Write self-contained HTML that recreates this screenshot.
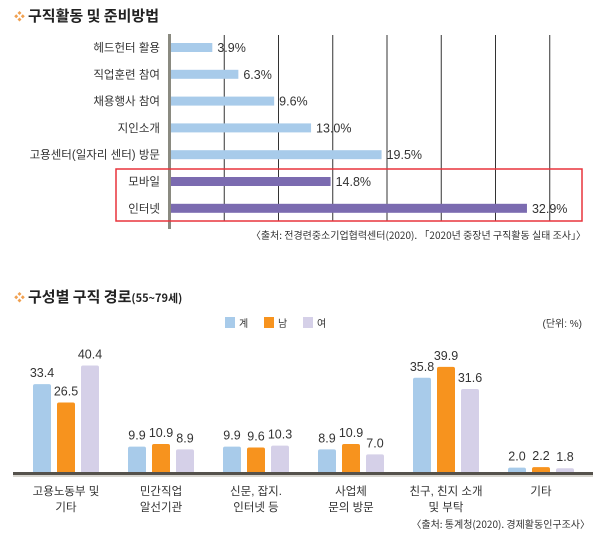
<!DOCTYPE html>
<html><head><meta charset="utf-8">
<style>
body{margin:0;background:#fff;width:610px;height:541px;overflow:hidden;font-family:"Liberation Sans","Noto Sans CJK KR","NanumGothic",sans-serif;}
svg{display:block}
</style></head>
<body>
<svg id="c" width="610" height="541" xmlns="http://www.w3.org/2000/svg">
  <g>
    <text x="14" y="20" font-size="11" fill="#f0a050">❖</text>
    <text x="28" y="21" font-size="15" font-weight="bold" fill="#222" font-family="'Noto Sans CJK KR',sans-serif">구직활동 및 준비방법</text>
  </g>
  <g id="topChart"></g>
  <rect x="116" y="169" width="466" height="52" fill="none" stroke="#e8343c" stroke-width="1.5"/>
  <text x="586" y="239" font-size="10" text-anchor="end" fill="#333" font-family="'Noto Sans CJK KR',sans-serif">〈출처: 전경련중소기업협력센터(2020). 「2020년 중장년 구직활동 실태 조사」〉</text>

  <g>
    <text x="14" y="301" font-size="11" fill="#f0a050">❖</text>
    <text x="28" y="302" font-size="15" font-weight="bold" fill="#222" font-family="'Noto Sans CJK KR',sans-serif">구성별 구직 경로<tspan font-size="11">(55~79세)</tspan></text>
  </g>
  <g id="legend"></g>
  <text x="582" y="327" font-size="10" text-anchor="end" fill="#333">(단위: %)</text>
  <g id="bottomChart"></g>
  <text x="590" y="528" font-size="10" text-anchor="end" fill="#333" font-family="'Noto Sans CJK KR',sans-serif">〈출처: 통계청(2020). 경제활동인구조사〉</text>
</svg>
<script>
const topCats=["헤드헌터 활용","직업훈련 참여","채용행사 참여","지인소개","고용센터(일자리 센터) 방문","모바일","인터넷"];
const topVals=[3.9,6.3,9.6,13.0,19.5,14.8,32.9];
const topLabels=["3.9%","6.3%","9.6%","13.0%","19.5%","14.8%","32.9%"];
const topGrid=[5,10,15,20,25,30,35];

const botCats=[["고용노동부 및","기타"],["민간직업","알선기관"],["신문, 잡지.","인터넷 등"],["사업체","문의 방문"],["친구, 친지 소개","및 부탁"],["기타"]];
const seriesNames=["계","남","여"];
const sTotal=[33.4,9.9,9.9,8.9,35.8,2.0];
const sMale=[26.5,10.9,9.6,10.9,39.9,2.2];
const sFemale=[40.4,8.9,10.3,7.0,31.6,1.8];

const NS="http://www.w3.org/2000/svg";
function mk(tag,attrs,parent,txt){const e=document.createElementNS(NS,tag);for(const k in attrs)e.setAttribute(k,attrs[k]);if(txt!=null)e.textContent=txt;parent.appendChild(e);return e;}

// top chart
const topG=document.getElementById('topChart');
const x0=170, kx=10.85;
const xs=v=>x0+v*kx;
const ys=i=>47+i*26.8;
topGrid.forEach(g=>{const l=mk('line',{x1:xs(g),x2:xs(g),y1:35,y2:221,stroke:'#333','stroke-width':1},topG);

});
const ax=mk('rect',{x:x0-2,y:34,width:3,height:195,fill:'#8a8a80'},topG);


topCats.forEach((c,i)=>{
  const y=ys(i);
  const t=mk('text',{x:160,y:y+4.5,'font-size':11.5,'text-anchor':'end',fill:'#333'},topG,c);
  
  
  const col=i>=5?'#7b6bb0':'#a8cbea';
  const b=mk('rect',{x:x0+1,y:y-4,width:xs(topVals[i])-x0-1,height:9,fill:col},topG);
  
  
  const v=mk('text',{x:xs(topVals[i])+5,y:y+5,'font-size':12.5,fill:'#333'},topG,topLabels[i]);
  
  
});

// legend
const lg=document.getElementById('legend');
const lcols=['#a8cbea','#f7931e','#d5d0e8'];
seriesNames.forEach((n,i)=>{
  const x=225+i*39;
  const r=mk('rect',{x:x,y:317,width:10,height:11,fill:lcols[i]},lg);
  
  
  const t=mk('text',{x:x+14,y:327,'font-size':10,fill:'#333'},lg,n);
  
  
});

// bottom chart
const botG=document.getElementById('bottomChart');
const base=473, ky=2.66;
const series=[sTotal,sMale,sFemale];
const gx=i=>33+i*95;
botCats.forEach((c,i)=>{
  series.forEach((s,j)=>{
    const h=s[i]*ky, x=gx(i)+j*24;
    const b=mk('rect',{x:x,y:base-h,width:18,height:h+2,rx:2,fill:lcols[j]},botG);
    
    
    const v=mk('text',{x:x+9,y:base-h-7,'font-size':12.5,'text-anchor':'middle',fill:'#333'},botG,s[i].toFixed(1));
    
    
  });
  c.forEach((ln,k)=>{
    const t=mk('text',{x:gx(i)+33,y:495+k*16,'font-size':11.5,'text-anchor':'middle',fill:'#333'},botG,ln);
    
    
  });
});
const bl=mk('rect',{x:13,y:472,width:580,height:3,fill:'#55524c'},botG);


const bs=mk('rect',{x:13,y:475,width:580,height:2,fill:'#d8d6d0'},botG);


</script>
</body></html>
